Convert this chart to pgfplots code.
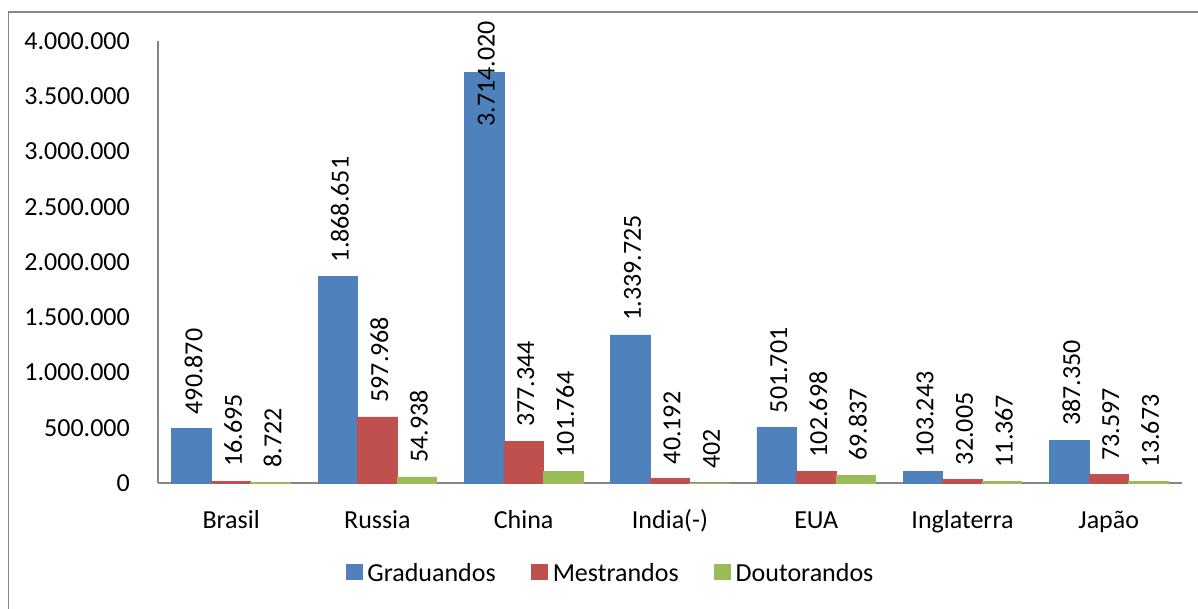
\documentclass[border=0pt]{standalone}
\usepackage{pgfplots}
\usepackage{pgfplotstable}
\pgfplotsset{compat=1.18}
\usepackage{fontspec}
\setmainfont{Carlito}
\definecolor{cBlue}{HTML}{4F81BD}
\definecolor{cRed}{HTML}{C0504D}
\definecolor{cGreen}{HTML}{9BBB59}
\definecolor{cAxis}{HTML}{868686}

\pgfplotstableread{
x v sh
0 490870 14
1 1868651 14
2 3714020 -54.4
3 1339725 14
4 501701 14
5 103243 14
6 387350 14
}\tgrad
\pgfplotstableread{
x v sh
0 16695 14
1 597968 14
2 377344 14
3 40192 14
4 102698 14
5 32005 14
6 73597 14
}\tmest
\pgfplotstableread{
x v sh
0 8722 14
1 54938 14
2 101764 14
3 402 14
4 69837 14
5 11367 14
6 13673 14
}\tdout

\begin{document}
\begin{tikzpicture}[x=1pt,y=1pt]
\useasboundingbox (0,0) rectangle (1198,608);
\draw[cAxis, line width=1.2pt] (8.5,-20) rectangle (1240,596);
\begin{axis}[
  at={(158pt,125pt)}, anchor=south west,
  width=1024pt, height=442pt, scale only axis,
  xmin=-0.5, xmax=6.5, ymin=0, ymax=4000000,
  axis x line*=bottom, axis y line*=left,
  axis line style={-, cAxis, line width=1.5pt},
  major tick length=0pt,
  xtick={0,1,2,3,4,5,6},
  xticklabels={Brasil,Russia,China,India(-),EUA,Inglaterra,Japão},
  ytick={0,500000,1000000,1500000,2000000,2500000,3000000,3500000,4000000},
  scaled y ticks=false,
  /pgf/number format/assume math mode=true,
  /pgf/number format/fixed,
  /pgf/number format/precision=0,
  /pgf/number format/1000 sep={.},
  tick label style={font=\fontsize{26}{31}\selectfont, text=black},
  yticklabel style={inner sep=0pt, anchor=east, xshift=-28pt},
  xticklabel style={inner sep=0pt, anchor=base, yshift=-45pt},
  ybar=0pt, bar width=39.5pt,
  nodes near coords={\pgfmathprintnumber[fixed,precision=0,1000 sep={.},assume math mode=true]{\pgfplotspointmeta}},
  visualization depends on={\thisrow{sh} \as \sh},
  nodes near coords style={yshift=\sh pt, xshift=2pt, rotate=90, anchor=west, inner sep=0pt, font=\fontsize{26}{31}\selectfont, text=black},
  clip=false,
  legend columns=3,
  legend style={at={(0.4438,-0.2036)}, anchor=center, draw=none, fill=none, inner sep=0pt,
    font=\fontsize{26}{31}\selectfont,
    nodes={inner xsep=5pt, inner ysep=0pt},
    /tikz/every even column/.append style={column sep=31pt}},
  legend image code/.code={\draw[#1,/tikz/.cd,line width=0pt] (0pt,-7pt) rectangle (16pt,8pt);},
]
\addplot[fill=cBlue, draw=cBlue, line width=0.8pt] table[x=x, y=v, meta=v] {\tgrad};
\addplot[fill=cRed, draw=cRed, line width=0.8pt] table[x=x, y=v, meta=v] {\tmest};
\addplot[fill=cGreen, draw=cGreen, line width=0.8pt] table[x=x, y=v, meta=v] {\tdout};
\legend{Graduandos,Mestrandos,Doutorandos}
\end{axis}
\end{tikzpicture}
\end{document}
